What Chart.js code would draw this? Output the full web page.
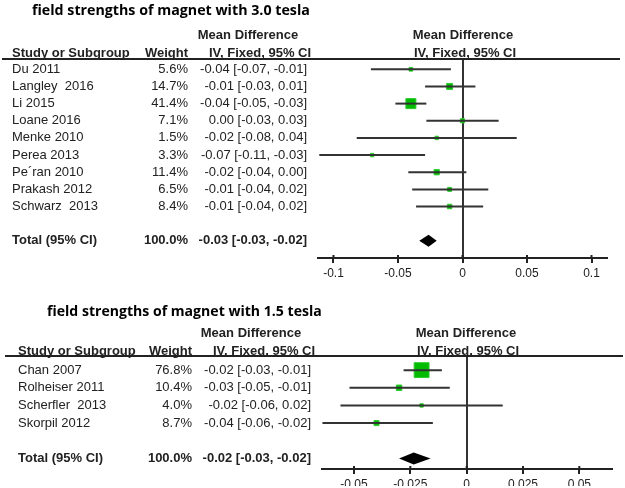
<!DOCTYPE html>
<html>
<head>
<meta charset="utf-8">
<script src="https://cdn.jsdelivr.net/npm/chart.js@4/dist/chart.umd.min.js"></script>
<style>
body { margin: 0; background: #fff; }
canvas { display: block; }
</style>
</head>
<body>
<canvas id="top-chart" width="625" height="290"></canvas>
<canvas id="bottom-chart" width="625" height="198"></canvas>
<script>
// 3.0 tesla panel
var topTitle = "field strengths of magnet with 3.0 tesla";
var topStudies = ["Du 2011", "Langley  2016", "Li 2015", "Loane 2016", "Menke 2010", "Perea 2013", "Pe\u00b4ran 2010", "Prakash 2012", "Schwarz  2013"];
var topWeightText = ["5.6%", "14.7%", "41.4%", "7.1%", "1.5%", "3.3%", "11.4%", "6.5%", "8.4%"];
var topWeights = [5.6, 14.7, 41.4, 7.1, 1.5, 3.3, 11.4, 6.5, 8.4];
var topCIText = ["-0.04 [-0.07, -0.01]", "-0.01 [-0.03, 0.01]", "-0.04 [-0.05, -0.03]", "0.00 [-0.03, 0.03]", "-0.02 [-0.08, 0.04]", "-0.07 [-0.11, -0.03]", "-0.02 [-0.04, 0.00]", "-0.01 [-0.04, 0.02]", "-0.01 [-0.04, 0.02]"];
var topMean = [-0.040, -0.010, -0.040, 0.000, -0.020, -0.070, -0.020, -0.010, -0.010];
var topLow = [-0.071, -0.029, -0.052, -0.028, -0.082, -0.111, -0.042, -0.039, -0.036];
var topHigh = [-0.009, 0.010, -0.028, 0.028, 0.042, -0.029, 0.003, 0.020, 0.016];
var topTotal = [-0.0335, -0.0263, -0.020]; // low, mean, high
var topTotalText = ["100.0%", "-0.03 [-0.03, -0.02]"];
var topTicks = [-0.1, -0.05, 0, 0.05, 0.1];
var topTickLabels = ["-0.1", "-0.05", "0", "0.05", "0.1"];

// 1.5 tesla panel
var bottomTitle = "field strengths of magnet with 1.5 tesla";
var bottomStudies = ["Chan 2007", "Rolheiser 2011", "Scherfler  2013", "Skorpil 2012"];
var bottomWeightText = ["76.8%", "10.4%", "4.0%", "8.7%"];
var bottomWeights = [76.8, 10.4, 4.0, 8.7];
var bottomCIText = ["-0.02 [-0.03, -0.01]", "-0.03 [-0.05, -0.01]", "-0.02 [-0.06, 0.02]", "-0.04 [-0.06, -0.02]"];
var bottomMean = [-0.020, -0.030, -0.020, -0.040];
var bottomLow = [-0.028, -0.052, -0.056, -0.064];
var bottomHigh = [-0.011, -0.0075, 0.016, -0.015];
var bottomTotal = [-0.030, -0.0235, -0.016];
var bottomTotalText = ["100.0%", "-0.02 [-0.03, -0.02]"];
var bottomTicks = [-0.05, -0.025, 0, 0.025, 0.05];
var bottomTickLabels = ["-0.05", "-0.025", "0", "0.025", "0.05"];

var textFont = "13px 'Liberation Sans', Arial, sans-serif";
var boldFont = "bold 13px 'Liberation Sans', Arial, sans-serif";
var textColor = "#222";

// draws the table on the left, the headers and the pooled diamond
var forestTable = {
    id: "forestTable",
    afterDraw: function(chart) {
        var p = chart.options.plugins.forestTable;
        var ctx = chart.ctx;
        var ys = chart.scales.y;
        var xs = chart.scales.x;
        var area = chart.chartArea;
        ctx.save();

        // title, fitted to its width in the picture
        ctx.font = "bold 100px 'Open Sans', sans-serif";
        var size = 100 * p.titleWidth / ctx.measureText(p.title).width;
        ctx.font = "bold " + size + "px 'Open Sans', sans-serif";
        ctx.fillStyle = "#000";
        ctx.textBaseline = "middle";
        ctx.textAlign = "left";
        ctx.fillText(p.title, p.titleX, p.titleY);

        // headers
        ctx.font = boldFont;
        ctx.fillStyle = textColor;
        ctx.textAlign = "center";
        ctx.fillText("Mean Difference", p.mdX, p.head1Y);
        ctx.fillText("Mean Difference", p.plotHeadX, p.head1Y);
        ctx.fillText("IV, Fixed, 95% CI", p.ciHeadX, p.head2Y);
        ctx.fillText("IV, Fixed, 95% CI", p.plotHeadX + 2, p.head2Y);
        ctx.textAlign = "left";
        ctx.fillText("Study or Subgroup", p.nameX, p.head2Y);
        ctx.textAlign = "right";
        ctx.fillText("Weight", p.weightX, p.head2Y);

        // header rule
        ctx.strokeStyle = "#222";
        ctx.lineWidth = 2;
        ctx.beginPath();
        ctx.moveTo(p.ruleStart, area.top);
        ctx.lineTo(p.ruleEnd, area.top);
        ctx.stroke();

        // tick marks poke a little above the axis line
        ctx.beginPath();
        xs.ticks.forEach(function(t) {
            var x = xs.getPixelForValue(t.value);
            ctx.moveTo(x, area.bottom - 3);
            ctx.lineTo(x, area.bottom);
        });
        ctx.stroke();

        // study rows
        ctx.font = textFont;
        for (var i = 0; i < p.studies.length; i++) {
            var y = ys.getPixelForValue(i);
            ctx.textAlign = "left";
            ctx.fillText(p.studies[i], p.nameX, y);
            ctx.textAlign = "right";
            ctx.fillText(p.weightText[i], p.weightX, y);
            ctx.fillText(p.ciText[i], p.ciX, y);
        }

        // total row
        var ty = ys.getPixelForValue(p.totalRow);
        ctx.font = boldFont;
        ctx.textAlign = "left";
        ctx.fillText("Total (95% CI)", p.nameX, ty);
        ctx.textAlign = "right";
        ctx.fillText(p.totalText[0], p.weightX, ty);
        ctx.fillText(p.totalText[1], p.ciX, ty);

        // diamond
        ctx.fillStyle = "#000";
        ctx.beginPath();
        ctx.moveTo(xs.getPixelForValue(p.total[0]), ty);
        ctx.lineTo(xs.getPixelForValue(p.total[1]), ty - p.diamondH);
        ctx.lineTo(xs.getPixelForValue(p.total[2]), ty);
        ctx.lineTo(xs.getPixelForValue(p.total[1]), ty + p.diamondH);
        ctx.closePath();
        ctx.fill();
        ctx.restore();
    }
};

function makeForest(id, d, lay) {
    var datasets = [];
    // confidence interval whiskers
    for (var i = 0; i < d.mean.length; i++) {
        datasets.push({
            data: [{ x: d.low[i], y: i }, { x: d.high[i], y: i }],
            showLine: true,
            borderColor: "#333",
            borderWidth: 2,
            pointRadius: 0
        });
    }
    // weighted squares
    datasets.push({
        data: d.mean.map(function(m, i) { return { x: m, y: i }; }),
        pointStyle: "rect",
        pointRadius: d.weights.map(function(w) { return Math.max(2.4, Math.sqrt(w) * lay.boxScale); }),
        backgroundColor: "#00bb00",
        borderColor: "#2ccc2c",
        borderWidth: 1
    });

    return new Chart(document.getElementById(id).getContext("2d"), {
        type: "scatter",
        data: { datasets: datasets },
        plugins: [forestTable],
        options: {
            responsive: false,
            animation: false,
            layout: { padding: { left: lay.left, right: lay.right, top: lay.top, bottom: lay.bottom } },
            plugins: {
                legend: { display: false },
                tooltip: { enabled: false },
                forestTable: {
                    title: d.title, studies: d.studies, weightText: d.weightText, ciText: d.ciText,
                    total: d.total, totalText: d.totalText, totalRow: lay.totalRow,
                    titleX: lay.titleX, titleY: lay.titleY, titleWidth: lay.titleWidth,
                    head1Y: lay.head1Y, head2Y: lay.head2Y, mdX: lay.mdX, ciHeadX: lay.ciHeadX,
                    plotHeadX: lay.plotHeadX, nameX: lay.nameX, weightX: lay.weightX, ciX: lay.ciX,
                    ruleStart: lay.ruleStart, ruleEnd: lay.ruleEnd, diamondH: lay.diamondH
                }
            },
            scales: {
                x: {
                    type: "linear",
                    min: lay.xMin,
                    max: lay.xMax,
                    afterBuildTicks: function(s) {
                        s.ticks = d.ticks.map(function(v) { return { value: v }; });
                    },
                    afterFit: function(s) { s.height = lay.axisH; },
                    ticks: {
                        autoSkip: false,
                        maxRotation: 0,
                        padding: 3,
                        color: textColor,
                        font: { family: "'Liberation Sans', Arial, sans-serif", size: 12 },
                        callback: function(v, i) { return d.tickLabels[i]; }
                    },
                    grid: {
                        drawOnChartArea: true,
                        color: function(c) { return c.tick && c.tick.value === 0 ? "#333" : "rgba(0,0,0,0)"; },
                        lineWidth: 2,
                        tickColor: "#222",
                        tickWidth: 2,
                        tickLength: 5
                    },
                    border: { display: true, color: "#222", width: 2 }
                },
                y: {
                    type: "linear",
                    display: false,
                    reverse: true,
                    min: lay.yMin,
                    max: lay.yMax
                }
            }
        }
    });
}

makeForest("top-chart", {
    title: topTitle, studies: topStudies, weightText: topWeightText, weights: topWeights,
    ciText: topCIText, mean: topMean, low: topLow, high: topHigh,
    total: topTotal, totalText: topTotalText, ticks: topTicks, tickLabels: topTickLabels
}, {
    left: 318, right: 18, top: 59, bottom: 2, axisH: 30,
    xMin: -0.112, xMax: 0.112, yMin: -0.6, yMax: 11, totalRow: 10,
    titleX: 32, titleY: 11, titleWidth: 278,
    head1Y: 35, head2Y: 53, mdX: 248, ciHeadX: 260, plotHeadX: 463,
    nameX: 12, weightX: 188, ciX: 307,
    ruleStart: 2, ruleEnd: 620, diamondH: 6, boxScale: 1.1
});

makeForest("bottom-chart", {
    title: bottomTitle, studies: bottomStudies, weightText: bottomWeightText, weights: bottomWeights,
    ciText: bottomCIText, mean: bottomMean, low: bottomLow, high: bottomHigh,
    total: bottomTotal, totalText: bottomTotalText, ticks: bottomTicks, tickLabels: bottomTickLabels
}, {
    left: 322, right: 13, top: 66, bottom: 2, axisH: 17,
    xMin: -0.0642, xMax: 0.0645, yMin: -0.8, yMax: 5.6, totalRow: 5,
    titleX: 47, titleY: 22, titleWidth: 275,
    head1Y: 43, head2Y: 61, mdX: 251, ciHeadX: 264, plotHeadX: 466,
    nameX: 18, weightX: 192, ciX: 311,
    ruleStart: 5, ruleEnd: 623, diamondH: 6, boxScale: 1.2
});
</script>
</body>
</html>
